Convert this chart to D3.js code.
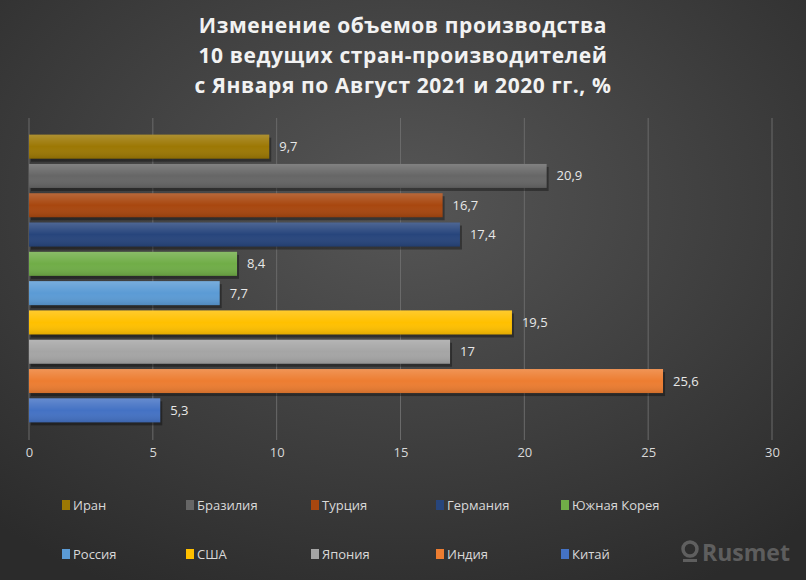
<!DOCTYPE html>
<html><head><meta charset="utf-8">
<script src="https://cdn.jsdelivr.net/npm/d3@7"></script>
<style>body{margin:0;background:#fff}svg{display:block;font-family:"Open Sans",Calibri,sans-serif}</style>
</head><body><svg id="c" width="806" height="584"></svg>
<script>
const countries = ['Иран','Бразилия','Турция','Германия','Южная Корея','Россия','США','Япония','Индия','Китай'];
const values = [9.7, 20.9, 16.7, 17.4, 8.4, 7.7, 19.5, 17, 25.6, 5.3];
const colors = ['#9c7804','#666666','#a8470f','#27457c','#70ad47','#5b9bd5','#ffc000','#a5a5a5','#ed7d31','#4472c4'];
const ticks = [0, 5, 10, 15, 20, 25, 30];

const svg = d3.select('#c');
const defs = svg.append('defs');
const bg = defs.append('radialGradient').attr('id','bg').attr('cx','50%').attr('cy','35%').attr('r','75%');
bg.append('stop').attr('offset','0%').attr('stop-color','#565656');
bg.append('stop').attr('offset','100%').attr('stop-color','#2b2b2b');
svg.append('rect').attr('width',806).attr('height',580).attr('fill','url(#bg)');

const sh = defs.append('linearGradient').attr('id','sh').attr('x1',0).attr('y1',0).attr('x2',0).attr('y2',1);
sh.append('stop').attr('offset','0%').attr('stop-color','#fff').attr('stop-opacity',0.18);
sh.append('stop').attr('offset','50%').attr('stop-color','#fff').attr('stop-opacity',0.0);
sh.append('stop').attr('offset','100%').attr('stop-color','#000').attr('stop-opacity',0.12);

svg.append('text').attr('x',403).attr('y',0).attr('text-anchor','middle')
  .attr('fill','#f2f2f2').attr('font-size',21).attr('font-weight','bold').attr('letter-spacing',0.6)
  .selectAll('tspan').data(['Изменение объемов производства','10 ведущих стран-производителей','с Января по Август 2021 и 2020 гг., %'])
  .join('tspan').attr('x',403).attr('dy',(d,i)=>i?30:33).text(d=>d);

const x = d3.scaleLinear().domain([0,30]).range([29,772]);
const y = d3.scaleBand().domain(countries).range([132,425]).paddingInner(0.18).paddingOuter(0.09);

const g = svg.append('g');
g.selectAll('line.grid').data(ticks).join('line').attr('class','grid')
  .attr('x1',d=>x(d)).attr('x2',d=>x(d)).attr('y1',118).attr('y2',440)
  .attr('stroke','#6a6a6a').attr('stroke-width',1);

const bars = g.selectAll('g.bar').data(countries).join('g').attr('class','bar');
bars.append('rect').attr('x',x(0)+2).attr('y',d=>y(d)+3).attr('width',(d,i)=>x(values[i])-x(0)).attr('height',y.bandwidth())
  .attr('fill','#000').attr('opacity',0.35);
bars.append('rect').attr('x',x(0)).attr('y',d=>y(d)).attr('width',(d,i)=>x(values[i])-x(0)).attr('height',y.bandwidth())
  .attr('fill',(d,i)=>colors[i]);
bars.append('rect').attr('x',x(0)).attr('y',d=>y(d)).attr('width',(d,i)=>x(values[i])-x(0)).attr('height',y.bandwidth())
  .attr('fill','url(#sh)');
bars.append('text').attr('x',(d,i)=>x(values[i])+10).attr('y',d=>y(d)+y.bandwidth()/2+4.5)
  .attr('fill','#e8e8e8').attr('font-size',13).text((d,i)=>String(values[i]).replace('.',','));

const ax = svg.append('g').attr('transform','translate(0,444)')
  .call(d3.axisBottom(x).tickValues(ticks).tickSize(0).tickPadding(4));
ax.select('.domain').remove();
ax.selectAll('text').attr('fill','#d9d9d9').attr('font-size',13).attr('font-family','"Open Sans",sans-serif');

const lx = [62,186,311,436,561];
const leg = svg.selectAll('g.leg').data(countries).join('g').attr('class','leg')
  .attr('transform',(d,i)=>`translate(${lx[i%5]},${i<5?505:554})`);
leg.append('rect').attr('x',0).attr('y',-5).attr('width',8).attr('height',10).attr('fill',(d,i)=>colors[i]);
leg.append('text').attr('x',11).attr('y',5).attr('fill','#d9d9d9').attr('font-size',13).text(d=>d);

const wm = svg.append('g').attr('opacity',0.35).attr('fill','#bbb');
wm.append('circle').attr('cx',690).attr('cy',549).attr('r',7).attr('fill','none').attr('stroke','#bbb').attr('stroke-width',3.5);
wm.append('rect').attr('x',683).attr('y',559).attr('width',14).attr('height',3);
wm.append('text').attr('x',702).attr('y',561).attr('font-size',23).attr('font-weight','bold').text('Rusmet');
</script></body></html>
